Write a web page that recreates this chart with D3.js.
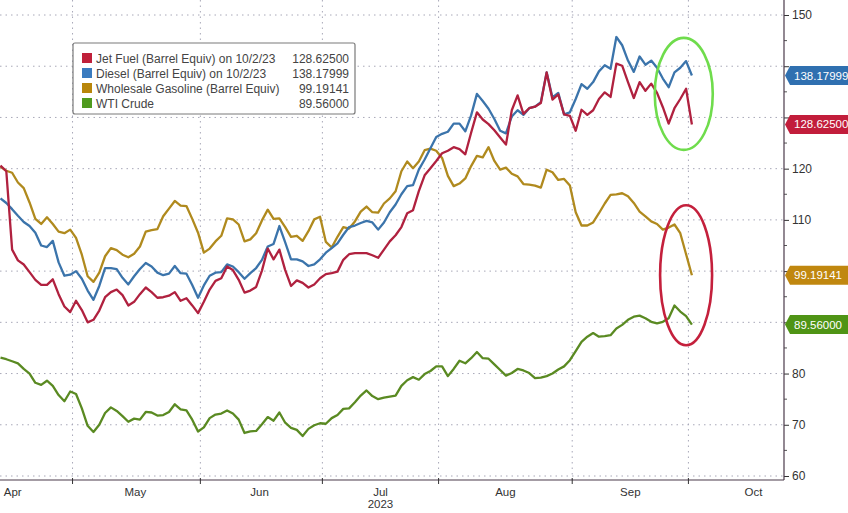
<!DOCTYPE html>
<html><head><meta charset="utf-8">
<script src="https://cdn.jsdelivr.net/npm/d3@7"></script>
<style>
html,body{margin:0;padding:0;background:#fff;}
svg{display:block;font-family:"Liberation Sans",Arial,sans-serif;}
</style></head>
<body>
<svg id="chart" width="848" height="513"></svg>
<script>
// ---- data (one value per trading day, Apr 12 2023 .. Oct 2 2023) ----
const seriesNames = ["Jet Fuel (Barrel Equiv) on 10/2/23","Diesel (Barrel Equiv) on 10/2/23","Wholesale Gasoline (Barrel Equiv)","WTI Crude"];
const lastValues = ["128.62500","138.17999","99.19141","89.56000"];
const jetFuel = [120.6,119.5,104.2,102.1,101.3,99.8,98.3,97.3,97.3,98.4,95.5,93.1,92,94.2,92.4,90,90.5,92.3,94.9,95.9,
 96.4,95.3,93.3,94,95.5,96.8,95.9,94.8,94.9,95.2,95.9,94.2,94.7,93.3,91.8,94,96.4,98.1,98.6,100.9,
 100.2,98.3,95.8,96.2,96.9,100.1,104.4,102.3,104.2,100.2,97.1,98.2,97.7,96.8,97.4,98.6,99.4,99.6,99.9,102.2,
 103.3,103.5,103.5,103.5,103.1,102.6,104.2,105.8,107,108.6,111.3,111.9,115.6,118.7,120.1,121.5,123,123.5,124.2,123.8,
 122.8,127,131,129.6,128.7,127.5,126.1,124.7,131.4,134.3,130.7,131.8,132.1,132.8,138.8,133.5,134.5,130.6,130.3,127.4,
 131.5,130.5,131.4,133.6,134.9,134,140.5,140.1,136.9,133.8,136.9,135.2,136.6,134.8,132,128.8,131.8,133.6,135.6,128.625];
const diesel = [114.2,113.3,112.1,110.8,109.6,108.8,107.5,105,104.7,105.9,101.7,99.1,99.3,100,98.5,96.2,94.4,97.1,100.6,100.6,
 100.4,98.7,97.4,99,100.4,101.6,100.9,99.7,99.2,99.5,101,99.6,99.5,97.3,94.8,97.2,99.1,99.7,99.8,101.3,
 100.9,99.8,98.5,99.6,100.6,102.2,104.8,105.3,108.8,105.6,102.3,102.3,101.9,101,101.3,102.3,103.6,104.5,105.4,107.1,
 108.6,108.9,109.4,109.8,109.5,108.1,109.5,111.5,113,115,116.6,116.8,119.8,121.8,124,126.2,126.8,127.2,128.8,128.8,
 127.3,130.4,134.6,133.2,131.7,129.7,127.4,126.9,130.2,131.4,130.5,131.8,132.1,133,138.8,133.9,134.8,130.6,131,133.6,
 136.5,135.6,136.9,139,140.2,139.5,145.7,144.1,141.1,138.9,141.9,140.3,141.1,139.7,137.6,135.9,138.8,139.7,141,138.18];
const gasoline = [120.4,119.6,119.2,117.3,116.2,113.4,110.2,109.2,110.5,109.2,107.7,107.4,108.1,106.5,103.2,99,97.9,99.7,102.9,104.5,
 104.1,103.2,102.7,103.4,104.8,107.7,108,108.2,110.7,112.2,113.7,112.8,112.7,110.2,107.5,103.6,104.4,105.8,106.9,110.3,
 110.1,109.1,105.8,106.2,107.4,109.9,112,110.2,110.3,108.6,106.7,106.9,105.9,107.8,110.1,110.6,105.7,104.6,106.7,108.6,
 108.3,109.7,111.6,112.6,111.5,111.4,113.2,114.2,115.6,119.5,121.4,120.1,121.4,123.6,123.9,123.5,122.1,118.6,116.6,117.1,
 118.1,120.5,122.5,122.2,124.2,121.5,119.8,120.2,119,118.5,117,116.9,116.7,116.3,119.8,119.3,117.8,118,116.7,111.5,
 108.9,108.9,109.5,111.3,113.2,114.9,115,115.2,114.6,113.3,111.6,110.7,109.7,109.2,108.1,108.5,109.1,107.4,103.3,99.19];
const wti = [83.1,82.8,82.4,82,80.9,80,78.2,77.8,78.6,77.6,75.8,74.6,76.5,76,73.2,69.8,68.6,70,72.3,73.4,
 72.7,71.7,70.6,71.2,71,72.5,72.4,71.8,71.9,72.5,74,73,72.8,71,68.7,69.5,71.3,72,72.2,72.8,
 72.2,71,68.4,68.7,68.8,70.1,71.5,70.8,72.4,70.4,69.4,69,67.8,69.2,69.9,70.3,70.2,71.3,71.9,73.1,
 73.2,74.4,75.7,76.7,75.6,75,75.3,75.5,75.7,77.6,78.7,79.3,78.8,79.9,80.5,81.4,81.4,79.5,80.9,82.5,
 82,83,84.2,83,82.9,81.8,80.7,79.6,80.1,80.9,80.6,80.1,79.1,79.2,79.5,80,80.8,81.4,82.6,84.4,
 86.2,87.2,87.9,87.2,87.3,87.5,88.8,89.5,90.5,91.1,91.3,90.8,90.1,89.8,90.1,90.8,93.3,92.1,91.2,89.56];
// month start (first trading day index) and month labels
const monthStartIdx = [13,35,56,76,99,119];
const monthLabels = ["Apr","May","Jun","Jul","Aug","Sep","Oct"];
const monthLabelIdx = [2.1,23.2,44.6,65.4,86.9,108.4,129.6];
const yearLabel = "2023";
const yTicks = [60,70,80,90,100,110,120,130,140,150];
const yMinorTicks = [65,75,85,95,105,115,125,135,145];
// highlight ellipses (centre in data units)
const highlights = [{idx:117.6, val:134.6, color:"#6fdc4c"},{idx:118, val:99.2, color:"#c4203c"}];

const lineColors = ["#b0213f","#3b74ab","#b08a1e","#5a8a22"];
const swatchColors = ["#c0203a","#3a7bbf","#b8860b","#4f9a1e"];
const boxColors = ["#c21d3b","#2f70b0","#c0870f","#4f9415"];

// ---- drawing ----
const svg = d3.select("#chart");
const W = 848, H = 513;
const plotRight = 784, plotBottom = 480;
const x = d3.scaleLinear().domain([0, jetFuel.length-1]).range([0.5, 691.9]);
const y = d3.scaleLinear().domain([60,150]).range([476,15]);

svg.append("defs").append("clipPath").attr("id","clip")
  .append("rect").attr("x",0).attr("y",0).attr("width",plotRight).attr("height",plotBottom);

// horizontal gridlines
svg.append("g").selectAll("line").data(yTicks).join("line")
  .attr("x1",0).attr("x2",plotRight).attr("y1",d=>y(d)).attr("y2",d=>y(d))
  .attr("stroke","#a8a8b8").attr("stroke-width",1).attr("stroke-dasharray","1.5,4");
// vertical gridlines at month boundaries
svg.append("g").selectAll("line").data(monthStartIdx).join("line")
  .attr("x1",d=>x(d-0.6)).attr("x2",d=>x(d-0.6)).attr("y1",0).attr("y2",plotBottom)
  .attr("stroke","#a8a8b8").attr("stroke-width",1).attr("stroke-dasharray","1.5,4");

// lines
const line = d3.line().x((d,i)=>x(i)).y(d=>y(d));
const allSeries = [wti, gasoline, diesel, jetFuel];
const order = [3,2,1,0];
const gLines = svg.append("g").attr("clip-path","url(#clip)");
allSeries.forEach((s,k)=>{
  gLines.append("path").datum(s).attr("d",line)
    .attr("fill","none").attr("stroke",lineColors[order[k]]).attr("stroke-width",2.3)
    .attr("stroke-linejoin","round");
});

// highlight ellipses
svg.append("g").selectAll("ellipse").data(highlights).join("ellipse")
  .attr("cx",d=>x(d.idx)).attr("cy",d=>y(d.val))
  .attr("rx",(d,i)=>i===0?29:26).attr("ry",(d,i)=>i===0?56:70)
  .attr("fill","none").attr("stroke",d=>d.color).attr("stroke-width",2.6);

// last values (for right-axis boxes)
const lastVals = [jetFuel[jetFuel.length-1], diesel[diesel.length-1], gasoline[gasoline.length-1], wti[wti.length-1]];

// right axis (labels hidden where a value box covers them, as in the original)
const covered = v => lastVals.some(lv => Math.abs(y(lv)-y(v)) < 16);
const yAxis = d3.axisRight(y).tickValues(yTicks).tickSize(5).tickPadding(3)
  .tickFormat(d => covered(d) ? "" : d3.format("d")(d));
const gy = svg.append("g").attr("transform",`translate(${plotRight},0)`).call(yAxis);
gy.select(".domain").remove();
gy.selectAll("line").attr("stroke","#333");
gy.selectAll("text").attr("font-size",12).attr("fill","#333").attr("font-family","Liberation Sans, Arial, sans-serif");
svg.append("g").selectAll("line").data(yMinorTicks).join("line")
  .attr("x1",plotRight).attr("x2",plotRight+3).attr("y1",d=>y(d)).attr("y2",d=>y(d))
  .attr("stroke","#555");
svg.append("line").attr("x1",plotRight).attr("x2",plotRight).attr("y1",0).attr("y2",plotBottom)
  .attr("stroke","#4a3a4a").attr("stroke-width",1.2);

// bottom axis
svg.append("line").attr("x1",0).attr("x2",plotRight).attr("y1",plotBottom).attr("y2",plotBottom)
  .attr("stroke","#4a3a4a").attr("stroke-width",1.2);
svg.append("g").selectAll("line").data(monthStartIdx).join("line")
  .attr("x1",d=>x(d-0.6)).attr("x2",d=>x(d-0.6)).attr("y1",plotBottom-2).attr("y2",plotBottom+4)
  .attr("stroke","#333");
svg.append("g").selectAll("text").data(monthLabels).join("text")
  .attr("x",(d,i)=>x(monthLabelIdx[i])).attr("y",496).attr("text-anchor","middle")
  .attr("font-size",11.5).attr("fill","#333").text(d=>d);
svg.append("text").attr("x",x(65.4)).attr("y",508).attr("text-anchor","middle")
  .attr("font-size",11.5).attr("fill","#333").text(yearLabel);

// value boxes on right axis
const gb = svg.append("g");
lastVals.forEach((v,i)=>{
  const yc = y(v);
  gb.append("path")
    .attr("d",`M${plotRight+1},${yc} L${plotRight+6},${yc-9.5} L${W},${yc-9.5} L${W},${yc+9.5} L${plotRight+6},${yc+9.5} Z`)
    .attr("fill",boxColors[i]);
  gb.append("text").attr("x",plotRight+10).attr("y",yc+4).attr("font-size",11.5)
    .attr("fill","#fff").text(lastValues[i]);
});

// legend
const lg = svg.append("g");
lg.append("rect").attr("x",73).attr("y",43).attr("width",282).attr("height",71)
  .attr("rx",2).attr("fill","#fff").attr("stroke","#7a7a7a").attr("stroke-width",1.2);
const rowY = [58,73,88,103];
seriesNames.forEach((n,i)=>{
  lg.append("rect").attr("x",82).attr("y",rowY[i]-5).attr("width",10).attr("height",10).attr("fill",swatchColors[i]);
  lg.append("text").attr("x",96).attr("y",rowY[i]+4.5).attr("font-size",12).attr("fill","#444").text(n);
  lg.append("text").attr("x",349).attr("y",rowY[i]+4.5).attr("font-size",12).attr("fill","#444")
    .attr("text-anchor","end").text(lastValues[i]);
});
</script>
</body></html>
